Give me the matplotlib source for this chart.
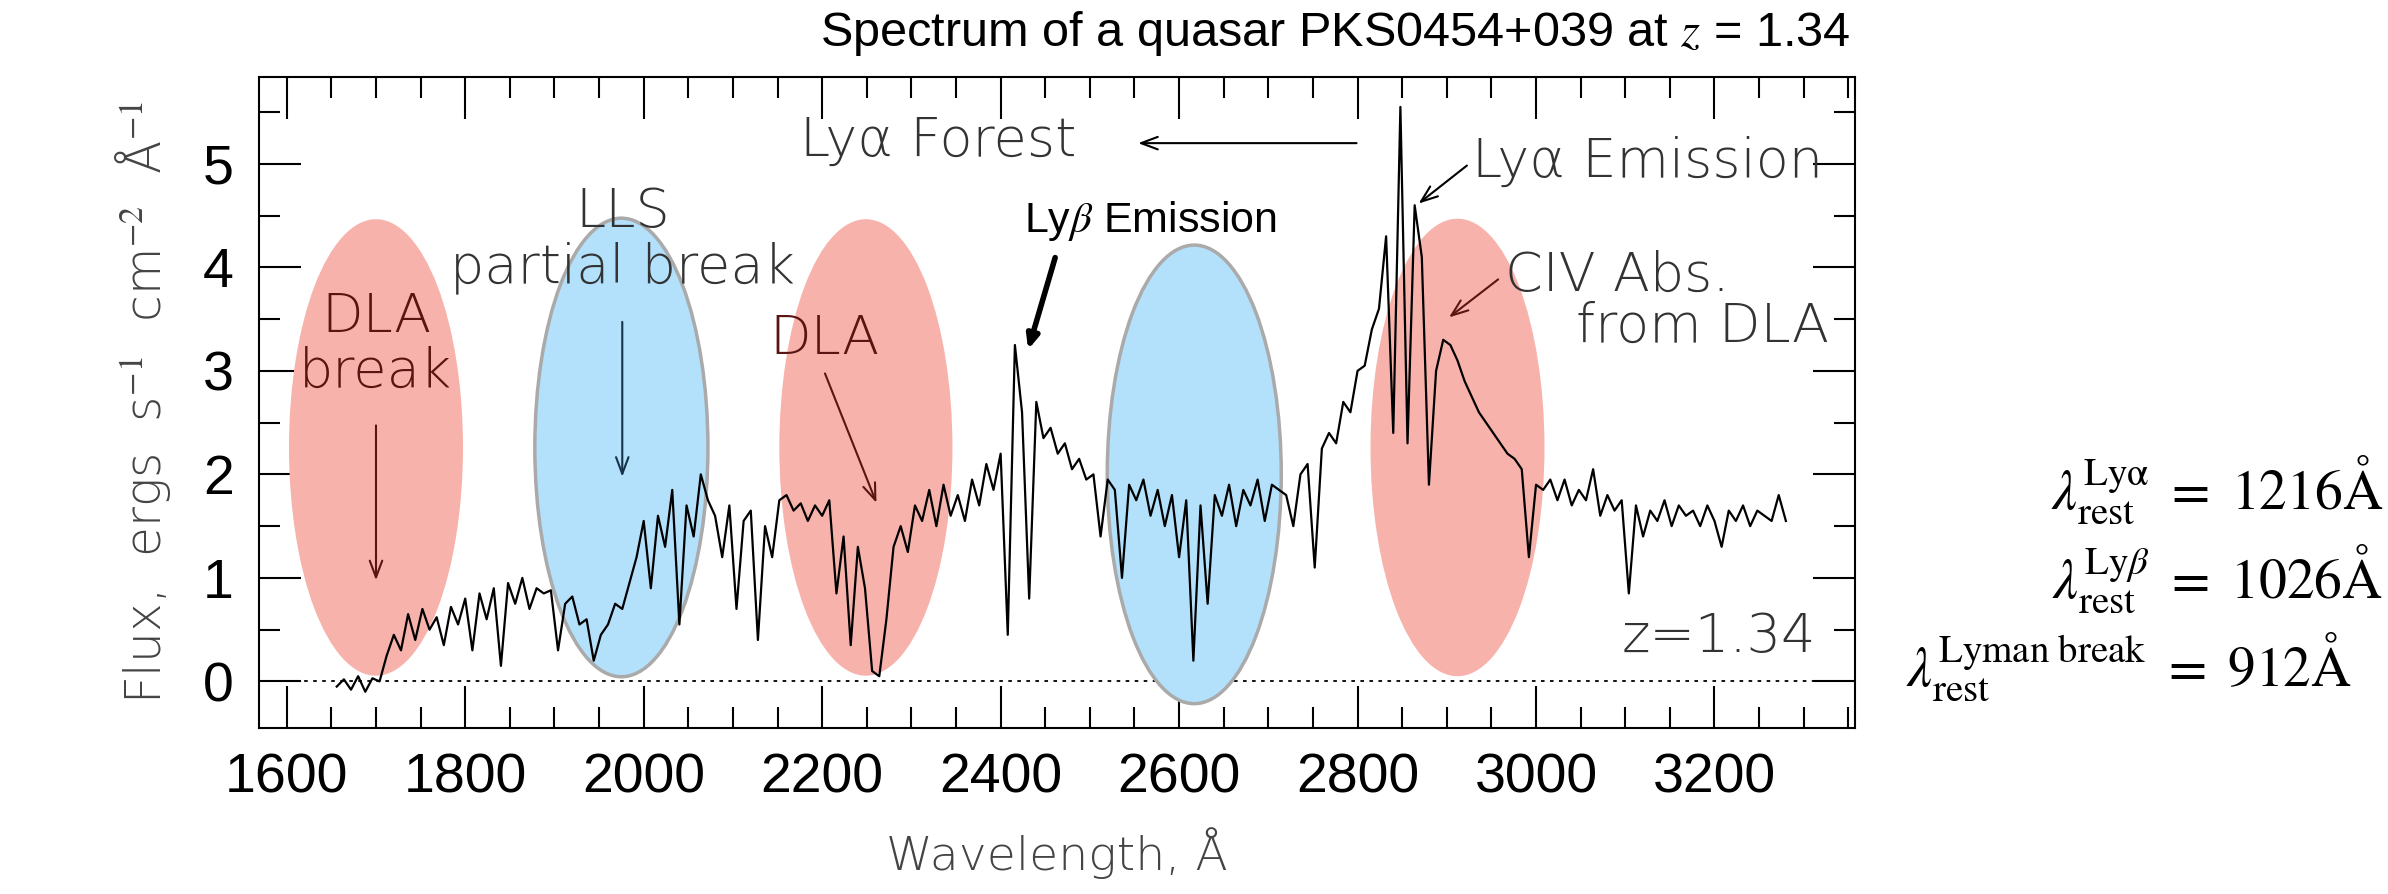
import numpy as np
import matplotlib
matplotlib.use("Agg")
import matplotlib.pyplot as plt
from matplotlib.patches import Ellipse
from matplotlib.ticker import MultipleLocator

plt.rcParams['mathtext.fontset'] = 'stix'

wl_start, wl_stop, wl_step = 1656, 3281, 8
flux = [
 -0.05, 0.02, -0.08, 0.05, -0.10, 0.03, 0.00, 0.25, 0.45, 0.30,
 0.65, 0.40, 0.70, 0.50, 0.62, 0.35, 0.72, 0.55, 0.80, 0.30,
 0.85, 0.60, 0.90, 0.15, 0.95, 0.75, 1.00, 0.70, 0.90, 0.85,
 0.88, 0.30, 0.75, 0.82, 0.55, 0.60, 0.20, 0.45, 0.55, 0.75,
 0.70, 0.95, 1.20, 1.55, 0.90, 1.60, 1.30, 1.85, 0.55, 1.70,
 1.40, 2.00, 1.75, 1.60, 1.20, 1.70, 0.70, 1.55, 1.65, 0.40,
 1.50, 1.20, 1.75, 1.80, 1.65, 1.72, 1.55, 1.70, 1.60, 1.75,
 0.85, 1.40, 0.35, 1.30, 0.90, 0.10, 0.05, 0.60, 1.30, 1.50,
 1.25, 1.70, 1.55, 1.85, 1.50, 1.90, 1.60, 1.80, 1.55, 1.95,
 1.70, 2.10, 1.85, 2.20, 0.45, 3.25, 2.60, 0.80, 2.70, 2.35,
 2.45, 2.20, 2.30, 2.05, 2.15, 1.95, 2.00, 1.40, 1.95, 1.85,
 1.00, 1.90, 1.75, 1.95, 1.60, 1.85, 1.50, 1.80, 1.20, 1.75,
 0.20, 1.70, 0.75, 1.80, 1.60, 1.90, 1.50, 1.85, 1.70, 1.95,
 1.55, 1.90, 1.85, 1.80, 1.50, 2.00, 2.10, 1.10, 2.25, 2.40,
 2.30, 2.70, 2.60, 3.00, 3.05, 3.40, 3.60, 4.30, 2.40, 5.55,
 2.30, 4.60, 4.10, 1.90, 3.00, 3.30, 3.25, 3.10, 2.90, 2.75,
 2.60, 2.50, 2.40, 2.30, 2.20, 2.15, 2.05, 1.20, 1.90, 1.85,
 1.95, 1.75, 1.95, 1.70, 1.85, 1.75, 2.05, 1.60, 1.80, 1.65,
 1.75, 0.85, 1.70, 1.40, 1.65, 1.55, 1.75, 1.50, 1.70, 1.60,
 1.65, 1.50, 1.70, 1.55, 1.30, 1.65, 1.55, 1.70, 1.50, 1.65,
 1.60, 1.55, 1.80, 1.55,
]
wavelength = np.arange(wl_start, wl_stop, wl_step)

ell_x = [1700, 1975, 2249, 2617, 2912]
ell_y = [2.26, 2.26, 2.26, 2.0, 2.26]
ell_w = [195, 194, 194, 195, 195]
ell_h = [4.41, 4.43, 4.41, 4.43, 4.42]
ell_kind = ['DLA', 'LLS', 'DLA', 'LLS', 'DLA']

fig = plt.figure(figsize=(23.88, 8.94), dpi=100)
ax = fig.add_axes([0.1085, 0.1857, 0.777 - 0.1085, 0.914 - 0.1857])
ax.plot(wavelength, flux, color='black', lw=1.6, zorder=3)
ax.axhline(0, color='black', ls=(0, (2, 3)), lw=1.3, zorder=1)

for x, y, w, h, k in zip(ell_x, ell_y, ell_w, ell_h, ell_kind):
    if k == 'DLA':
        e = Ellipse((x, y), w, h, facecolor='#F7B3AB', edgecolor='none', zorder=2)
    else:
        e = Ellipse((x, y), w, h, facecolor='#B3E0FA', edgecolor='#aaaaaa', lw=2.5, zorder=2)
    ax.add_patch(e)

ax.set_xlim(1569, 3358)
ax.set_ylim(-0.45, 5.84)
ax.xaxis.set_major_locator(MultipleLocator(200))
ax.xaxis.set_minor_locator(MultipleLocator(50))
ax.yaxis.set_major_locator(MultipleLocator(1))
ax.yaxis.set_minor_locator(MultipleLocator(0.5))
ax.tick_params(which='both', direction='in', top=True, right=True, width=1.5)
ax.tick_params(which='major', length=30, labelsize=40, pad=18)
ax.tick_params(which='minor', length=15)
for s in ax.spines.values():
    s.set_linewidth(1.5)
for lab in ax.get_xticklabels() + ax.get_yticklabels():
    lab.set_family(['Liberation Sans', 'DejaVu Sans'])

gray = '#333333'
red_t = '#5a1512'
blue_t = '#16324a'
tf = dict(family=['DejaVu Sans'], fontweight='light')
ax.set_xlabel('Wavelength, Å', fontsize=34, labelpad=16, color='#444444', **tf)
ax.set_ylabel('Flux,  ergs  s$^{-1}$  cm$^{-2}$  Å$^{-1}$', fontsize=35, labelpad=22,
              color='#444444', **tf)

fs = 39
ap = lambda c: dict(arrowstyle='->,head_length=1.2,head_width=0.45', color=c, lw=1.5)
ax.text(1700, 3.52, 'DLA', ha='center', va='center', fontsize=fs, color=red_t, zorder=4, **tf)
ax.text(1700, 2.99, 'break', ha='center', va='center', fontsize=fs, color=red_t, zorder=4, **tf)
ax.annotate('', xy=(1700, 0.95), xytext=(1700, 2.5), zorder=4, arrowprops=ap(red_t))
ax.text(1976, 4.53, 'LLS', ha='center', va='center', fontsize=fs, color=gray, zorder=4, **tf)
ax.text(1976, 4.0, 'partial break', ha='center', va='center', fontsize=fs, color=gray, zorder=4, **tf)
ax.annotate('', xy=(1976, 1.95), xytext=(1976, 3.5), zorder=4, arrowprops=ap(blue_t))
ax.text(2202, 3.3, 'DLA', ha='center', va='center', fontsize=fs, color=red_t, zorder=4, **tf)
ax.annotate('', xy=(2262, 1.7), xytext=(2202, 3.0), zorder=4, arrowprops=ap(red_t))
ax.text(2175, 5.22, 'Lyα Forest', ha='left', va='center', fontsize=fs, color=gray, zorder=4, **tf)
ax.annotate('', xy=(2551, 5.2), xytext=(2802, 5.2), zorder=4, arrowprops=ap('black'))
ax.text(2568, 4.45, r'Ly$\beta$ Emission', ha='center', va='center', fontsize=31,
        family=['Liberation Sans', 'DejaVu Sans'], color='black', zorder=4)
ax.annotate('', xy=(2430, 3.18), xytext=(2462, 4.12), zorder=4,
            arrowprops=dict(arrowstyle='-|>,head_length=0.8,head_width=0.35', color='black', lw=4))
ax.text(2928, 5.02, 'Lyα Emission', ha='left', va='center', fontsize=fs, color=gray, zorder=4, **tf)
ax.annotate('', xy=(2866, 4.6), xytext=(2925, 5.0), zorder=4, arrowprops=ap('black'))
ax.text(2965, 3.91, 'CIV Abs.', ha='left', va='center', fontsize=fs, color=gray, zorder=4, **tf)
ax.text(3045, 3.42, 'from DLA', ha='left', va='center', fontsize=fs, color=gray, zorder=4, **tf)
ax.annotate('', xy=(2900, 3.5), xytext=(2960, 3.9), zorder=4, arrowprops=ap(red_t))
ax.text(3314, 0.43, 'z=1.34', ha='right', va='center', fontsize=fs, color=gray, zorder=4, **tf)

fig.text(0.775, 0.962, r'Spectrum of a quasar PKS0454+039 at $z$ = 1.34', ha='right', va='center',
         fontsize=35, family=['Liberation Sans', 'DejaVu Sans'])

rf = dict(ha='right', va='center', fontsize=40, family='STIXGeneral')
fig.text(0.998, 1 - 490/894, r'$\lambda_{\rm rest}^{\rm Ly\alpha}\ =\ 1216\mathrm{\AA}$', **rf)
fig.text(0.998, 1 - 579/894, r'$\lambda_{\rm rest}^{{\rm Ly}\beta}\ =\ 1026\mathrm{\AA}$', **rf)
fig.text(0.985, 1 - 667/894, r'$\lambda_{\rm rest}^{\rm Lyman\ break}\ =\ 912\mathrm{\AA}$', **rf)

fig.savefig('out.png', dpi=100)
